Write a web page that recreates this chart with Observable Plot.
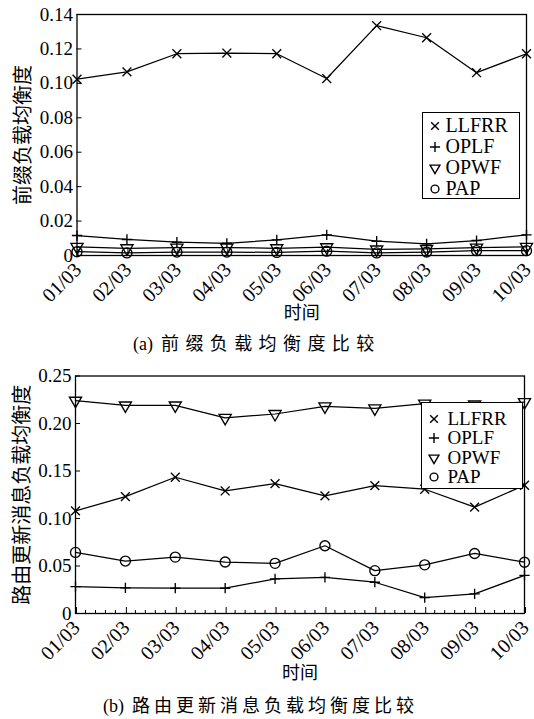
<!DOCTYPE html>
<html>
<head>
<meta charset="utf-8">
<script src="https://cdn.jsdelivr.net/npm/d3@7"></script>
<script src="https://cdn.jsdelivr.net/npm/@observablehq/plot@0.6"></script>
<style>
  body { margin: 0; background: #fff; }
  #root { position: relative; width: 534px; height: 719px; overflow: hidden; background: #fff; }
  .panel { position: absolute; left: 0; }
  .caption { position: absolute; white-space: nowrap; font-family: "Liberation Serif", "Noto Sans CJK SC", serif; font-size: 18px; line-height: 18px; color: #000; }
  .caption .lead { margin-right: 8px; }
  .legend { position: absolute; box-sizing: border-box; border: 1.3px solid #000; background: #fff; }
  .legend .row-text { position: absolute; font-family: "Liberation Serif", serif; line-height: 1; color: #000; white-space: nowrap; }
  .legend svg { position: absolute; overflow: visible; }
</style>
</head>
<body>
<div id="root"></div>
<script>
// ---------- data ----------
const dates = ["01/03","02/03","03/03","04/03","05/03","06/03","07/03","08/03","09/03","10/03"];
const seriesNames = ["LLFRR","OPLF","OPWF","PAP"];

// (a) prefix load balance
const prefixLLFRR = [0.1024,0.1067,0.1172,0.1176,0.1172,0.1028,0.1335,0.1265,0.1062,0.1172];
const prefixOPLF  = [0.0116,0.0093,0.0077,0.0071,0.0091,0.0120,0.0083,0.0068,0.0087,0.0120];
const prefixOPWF  = [0.0050,0.0042,0.0046,0.0046,0.0042,0.0048,0.0035,0.0038,0.0046,0.0050];
const prefixPAP   = [0.0022,0.0015,0.0020,0.0020,0.0018,0.0025,0.0015,0.0020,0.0028,0.0028];

// (b) routing update message load balance
const routeLLFRR = [0.1080,0.1230,0.1434,0.1290,0.1367,0.1238,0.1346,0.1308,0.1120,0.1350];
const routeOPLF  = [0.0283,0.0269,0.0266,0.0266,0.0364,0.0381,0.0329,0.0168,0.0206,0.0402];
const routeOPWF  = [0.2240,0.2190,0.2190,0.2060,0.2100,0.2180,0.2160,0.2210,0.2200,0.2225];
const routePAP   = [0.0643,0.0552,0.0594,0.0542,0.0528,0.0713,0.0451,0.0512,0.0632,0.0540];

const prefixYTicks = [0,0.02,0.04,0.06,0.08,0.10,0.12,0.14];
const prefixYTickLabels = ["0","0.02","0.04","0.06","0.08","0.10","0.12","0.14"];
const routeYTicks = [0,0.05,0.10,0.15,0.20,0.25];
const routeYTickLabels = ["0","0.05","0.10","0.15","0.20","0.25"];

const xLabel = "时间";
const prefixYLabel = "前缀负载均衡度";
const routeYLabel = "路由更新消息负载均衡度";
const prefixCaption = "(a) 前缀负载均衡度比较";
const routeCaption = "(b) 路由更新消息负载均衡度比较";

// ---------- helpers ----------
const markerSpec = {
  LLFRR: {symbol: "times", r: 4.1, rotate: 0, d3sym: d3.symbolTimes, legendSize: 40},
  OPLF:  {symbol: "plus", r: 3.4, rotate: 0, d3sym: d3.symbolPlus, legendSize: 36},
  OPWF:  {symbol: "triangle", r: 4.5, rotate: 180, d3sym: d3.symbolTriangle, legendSize: 42},
  PAP:   {symbol: "circle", r: 5, rotate: 0, d3sym: d3.symbolCircle, legendSize: 48}
};

function rowsFor(valuesBySeries) {
  const rows = [];
  seriesNames.forEach((s, k) => {
    valuesBySeries[k].forEach((v, i) => rows.push({s, i, v}));
  });
  return rows;
}

function makePanel(o) {
  const rows = rowsFor(o.values);
  const minorTicks = d3.range(0, dates.length - 1 + 1e-9, 0.2).filter(t => Math.abs(t - Math.round(t)) > 1e-6);
  const marks = [
    Plot.frame({stroke: "#000", strokeWidth: 1.3}),
    Plot.axisY({
      ticks: o.yTicks,
      tickFormat: v => o.yTickLabels[o.yTicks.findIndex(t => Math.abs(t - v) < 1e-9)],
      tickSize: -5, tickPadding: 9, fontSize: 19, label: null, stroke: "#000", fill: "#000"
    }),
    Plot.axisX({
      ticks: d3.range(dates.length),
      tickFormat: i => dates[i],
      tickRotate: -45, tickSize: -6, tickPadding: 17, dx: 1, fontSize: 20, label: null, stroke: "#000", fill: "#000"
    })
  ];
  if (o.minor) {
    marks.push(Plot.axisX({ticks: minorTicks, tickSize: -3, tickFormat: () => "", label: null, stroke: "#000"}));
  }
  marks.push(Plot.line(rows, {x: "i", y: "v", z: "s", stroke: "#000", strokeWidth: 1.25}));
  seriesNames.forEach(s => {
    const m = markerSpec[s];
    marks.push(Plot.dot(rows.filter(d => d.s === s), {
      x: "i", y: "v", symbol: m.symbol, r: m.r, rotate: m.rotate,
      stroke: "#000", fill: "none", strokeWidth: 1.35
    }));
  });
  marks.push(Plot.text([o.yLabel], {text: d => d, frameAnchor: "left", dx: o.yLabelDx, rotate: -90,
    textAnchor: "middle", lineAnchor: "middle",
    fontSize: 20, fontFamily: "Noto Sans CJK SC", fill: "#000"}));
  marks.push(Plot.text([xLabel], {text: d => d, frameAnchor: "bottom", dy: o.xLabelDy,
    textAnchor: "middle", lineAnchor: "middle",
    fontSize: 18, fontFamily: "Noto Sans CJK SC", fill: "#000"}));

  const svg = Plot.plot({
    width: 534, height: o.height,
    marginTop: o.marginTop, marginBottom: o.marginBottom, marginLeft: o.marginLeft, marginRight: o.marginRight,
    x: {type: "linear", domain: [0, dates.length - 1]},
    y: {domain: [0, o.yMax]},
    style: {fontFamily: "Liberation Serif", background: "transparent", overflow: "visible", color: "#000"},
    marks
  });
  svg.classList.add("panel");
  svg.style.top = o.top + "px";
  return svg;
}

function makeLegend(o) {
  const div = document.createElement("div");
  div.className = "legend";
  Object.assign(div.style, {left: o.left + "px", top: o.top + "px", width: o.width + "px", height: o.height + "px"});
  seriesNames.forEach((s, k) => {
    const cy = o.firstRow + k * o.rowH;
    const m = markerSpec[s];
    const svg = d3.create("svg").attr("width", 12).attr("height", 12)
      .style("left", (o.markerX - 6) + "px").style("top", (cy - 6) + "px");
    svg.append("path")
      .attr("d", d3.symbol(m.d3sym, m.legendSize)())
      .attr("transform", `translate(6,6) rotate(${m.rotate})`)
      .attr("fill", "none").attr("stroke", "#000").attr("stroke-width", 1.4);
    div.appendChild(svg.node());
    const t = document.createElement("div");
    t.className = "row-text";
    t.textContent = s;
    Object.assign(t.style, {left: o.textX + "px", top: (cy - o.fontSize * 0.52) + "px", fontSize: o.fontSize + "px"});
    div.appendChild(t);
  });
  return div;
}

function makeCaption(text, left, top, spacing) {
  const d = document.createElement("div");
  d.className = "caption";
  const cut = text.indexOf(" ");
  const lead = document.createElement("span");
  lead.className = "lead";
  lead.textContent = text.slice(0, cut);
  const rest = document.createElement("span");
  rest.textContent = text.slice(cut + 1);
  rest.style.letterSpacing = spacing + "px";
  d.appendChild(lead);
  d.appendChild(rest);
  Object.assign(d.style, {left: left + "px", top: top + "px"});
  return d;
}

// ---------- build ----------
const root = document.getElementById("root");

root.appendChild(makePanel({
  values: [prefixLLFRR, prefixOPLF, prefixOPWF, prefixPAP],
  yTicks: prefixYTicks, yTickLabels: prefixYTickLabels, yMax: 0.14,
  yLabel: prefixYLabel, yLabelDx: -53, xLabelDy: 58,
  top: 0, height: 330, marginTop: 14, marginBottom: 75, marginLeft: 76.5, marginRight: 8, minor: false
}));
root.appendChild(makeLegend({left: 421.5, top: 112, width: 98, height: 87, firstRow: 12.5, rowH: 21, markerX: 12, textX: 23, fontSize: 20}));
root.appendChild(makeCaption(prefixCaption, 133, 335, 6.4));

root.appendChild(makePanel({
  values: [routeLLFRR, routeOPLF, routeOPWF, routePAP],
  yTicks: routeYTicks, yTickLabels: routeYTickLabels, yMax: 0.25,
  yLabel: routeYLabel, yLabelDx: -53, xLabelDy: 60,
  top: 360, height: 330, marginTop: 15.5, marginBottom: 77, marginLeft: 75, marginRight: 10, minor: true
}));
root.appendChild(makeLegend({left: 420.5, top: 401.5, width: 102, height: 87, firstRow: 16.5, rowH: 19.3, markerX: 12, textX: 26, fontSize: 19}));
root.appendChild(makeCaption(routeCaption, 103, 697, 4.0));
</script>
</body>
</html>
